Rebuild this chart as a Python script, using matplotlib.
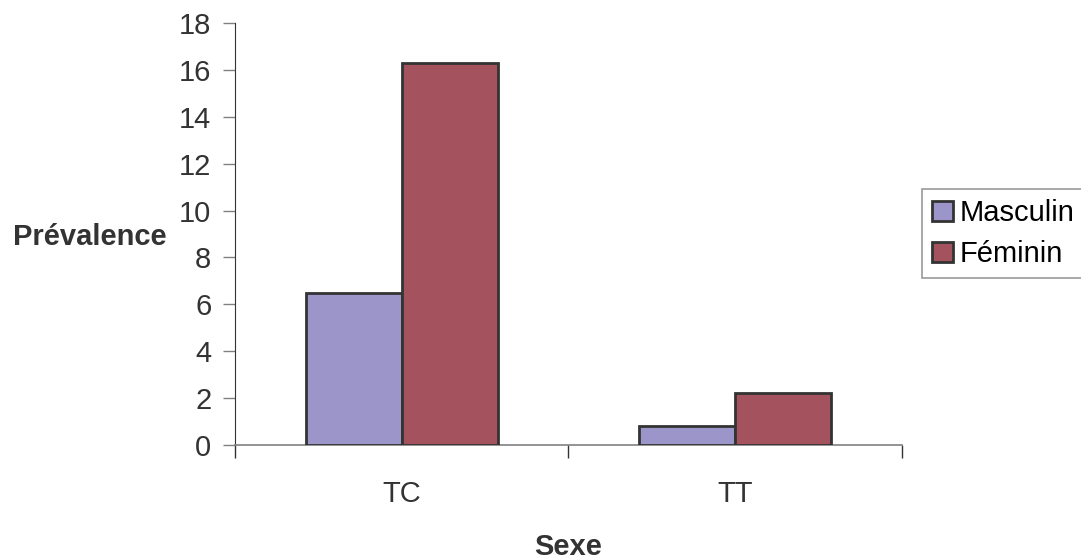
import numpy as np
import matplotlib
matplotlib.use("Agg")
import matplotlib.pyplot as plt
from matplotlib.patches import Patch

plt.rcParams['font.family'] = ['Liberation Sans', 'DejaVu Sans']

categories = ['TC', 'TT']
masculin = [6.5, 0.8]
feminin = [16.3, 2.2]
series_names = ['Masculin', 'Féminin']
colors = ['#9B95C9', '#A5525F']
edge = '#333333'
fs = 21

fig = plt.figure(figsize=(10.81, 5.59), dpi=100)
ax = fig.add_axes([0.2174, 0.2039, 0.6170, 0.7550])

x = np.arange(len(categories))
w = 0.288
ax.bar(x - w / 2, masculin, w, color=colors[0], edgecolor=edge, linewidth=2, zorder=3)
ax.bar(x + w / 2, feminin, w, color=colors[1], edgecolor=edge, linewidth=2, zorder=3)

ax.set_xlim(-0.5, 1.5)
ax.set_ylim(0, 18)
ax.set_yticks(range(0, 19, 2))
ax.set_xticks([-0.5, 0.5, 1.5], minor=False)
ax.set_xticklabels([])
ax.set_xticks(x, minor=True)
ax.set_xticklabels(categories, minor=True)
ax.tick_params(axis='x', which='major', length=9, width=1, color='#333333', direction='out')
ax.tick_params(axis='x', which='minor', length=0, pad=25, labelsize=fs, labelcolor='#333333')
ax.tick_params(axis='y', length=9, width=1, color='#808080', labelsize=fs,
               labelcolor='#333333', pad=8)

for s in ['top', 'right']:
    ax.spines[s].set_visible(False)
ax.spines['left'].set_color('#333333')
ax.spines['bottom'].set_color('#808080')
ax.spines['bottom'].set_linewidth(1.2)

fig.text(0.0833, 0.576, 'Prévalence', fontsize=fs, fontweight='bold', ha='center', va='center',
         color='#333333')
fig.text(0.5254, 0.022, 'Sexe', fontsize=fs, fontweight='bold', ha='center', va='center',
         color='#333333')

handles = [Patch(facecolor=c, edgecolor=edge, linewidth=2) for c in colors]
leg = fig.legend(handles, series_names, loc='upper left', bbox_to_anchor=(0.853, 0.662),
                 fontsize=fs, frameon=True, fancybox=False, handlelength=0.7, handleheight=0.7,
                 handletextpad=0.25, borderpad=0.35, labelspacing=0.45, borderaxespad=0)
leg.get_frame().set_edgecolor('#808080')
leg.get_frame().set_linewidth(1.2)

fig.savefig('out.png', dpi=100)
